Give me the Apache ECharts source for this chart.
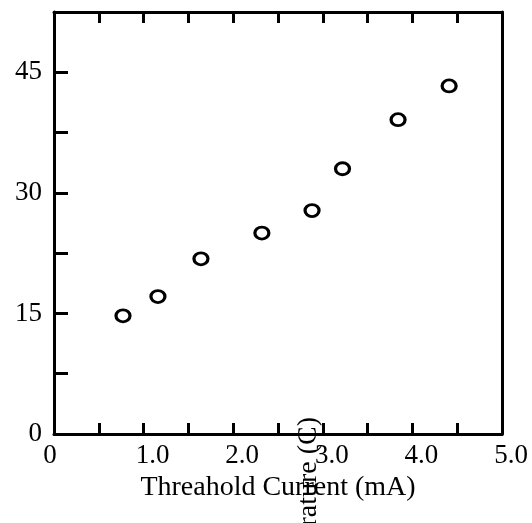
<!DOCTYPE html>
<html>
<head>
<meta charset="utf-8">
<script src="https://cdn.jsdelivr.net/npm/echarts@6/dist/echarts.min.js"></script>
<style>
  html, body { margin: 0; padding: 0; background: #fff; }
  #chart { width: 532px; height: 523px; }
</style>
</head>
<body>
<div id="chart"></div>
<script>
// Threshold current (mA) vs temperature (C)
const currentMA = [0.77, 1.16, 1.64, 2.32, 2.88, 3.22, 3.84, 4.41];
const temperatureC = [14.7, 17.1, 21.8, 25.0, 27.8, 33.0, 39.1, 43.3];
const yLabelValues = [0, 15, 30, 45];
const xAxisTitle = 'Threahold Current (mA)';
const yAxisTitle = 'Temperature (C)';

const points = currentMA.map((x, i) => [x, temperatureC[i]]);
const serif = '"Liberation Serif", "DejaVu Serif", serif';
const ink = '#000';

const chart = echarts.init(document.getElementById('chart'));
chart.setOption({
  backgroundColor: '#fff',
  animation: false,
  grid: { left: 54, right: 30, top: 12, bottom: 89 },
  xAxis: [
    {
      type: 'value', min: 0, max: 5, interval: 0.5, position: 'bottom',
      name: xAxisTitle, nameLocation: 'middle', nameGap: 36,
      nameTextStyle: { fontFamily: serif, fontSize: 28, color: ink },
      axisLine: { lineStyle: { color: ink, width: 3 } },
      axisTick: { inside: true, length: 11, lineStyle: { color: ink, width: 3 } },
      axisLabel: {
        fontFamily: serif, fontSize: 27, color: ink, margin: 8,
        padding: [0, 0, 0, 18],
        formatter: v => v === 0 ? '{z|0}' : (Math.abs(v % 1) < 1e-9 ? v.toFixed(1) : ''),
        rich: { z: { fontFamily: serif, fontSize: 27, color: ink, padding: [0, 26, 0, 0] } }
      },
      splitLine: { show: false }
    },
    {
      type: 'value', min: 0, max: 5, interval: 0.5, position: 'top',
      axisLine: { onZero: false, lineStyle: { color: ink, width: 3 } },
      axisTick: { inside: true, length: 11, lineStyle: { color: ink, width: 3 } },
      axisLabel: { show: false },
      splitLine: { show: false }
    }
  ],
  yAxis: [
    {
      type: 'value', min: 0, max: 52.5, interval: 7.5, position: 'left',
      axisLine: { lineStyle: { color: ink, width: 3 } },
      axisTick: { inside: true, length: 14, lineStyle: { color: ink, width: 3 } },
      axisLabel: {
        fontFamily: serif, fontSize: 27, color: ink, margin: 12,
        formatter: v => yLabelValues.includes(v) ? String(v) : ''
      },
      splitLine: { show: false }
    },
    {
      type: 'value', min: 0, max: 52.5, interval: 7.5, position: 'right',
      axisLine: { show: true, onZero: false, lineStyle: { color: ink, width: 3 } },
      axisTick: { show: false },
      axisLabel: { show: false },
      splitLine: { show: false }
    }
  ],
  series: [{
    type: 'scatter',
    data: points,
    symbol: 'circle',
    symbolSize: [14, 12],
    itemStyle: { color: '#fff', borderColor: ink, borderWidth: 3, opacity: 1 }
  }],
  graphic: [{
    type: 'text',
    x: 309, y: 417,
    rotation: Math.PI / 2,
    z: 100,
    style: {
      text: yAxisTitle,
      font: '28px ' + serif,
      fill: ink,
      align: 'right',
      verticalAlign: 'middle'
    }
  }]
});
</script>
</body>
</html>
